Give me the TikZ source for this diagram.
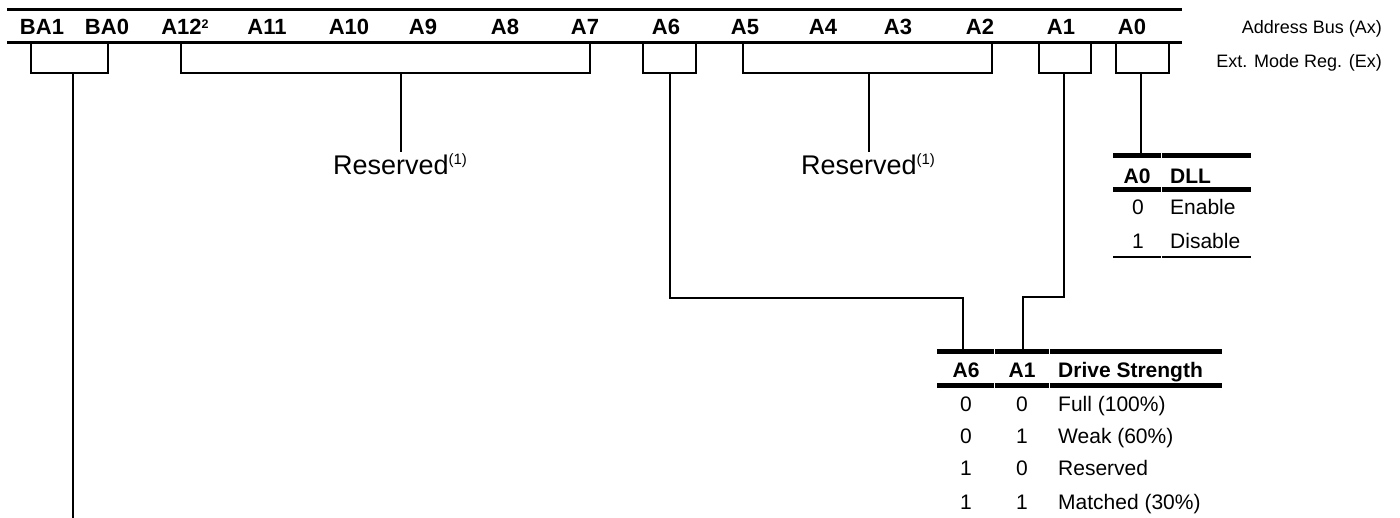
\documentclass[tikz,border=0pt]{standalone}
\usepackage{fontspec}
\setmainfont{Liberation Sans}
\begin{document}
\begin{tikzpicture}[x=1pt,y=-1pt,
  hdr/.style={font=\fontsize{22}{26}\selectfont\bfseries, anchor=base, inner sep=0pt},
  side/.style={font=\fontsize{18}{22}\selectfont, anchor=base east, inner sep=0pt},
  res/.style={font=\fontsize{27}{31}\selectfont, anchor=base, inner sep=0pt},
  tb/.style={font=\fontsize{21}{25}\selectfont, anchor=base, inner sep=0pt},
  tbl/.style={font=\fontsize{21}{25}\selectfont, anchor=base west, inner sep=0pt},
  tbh/.style={font=\fontsize{21}{25}\selectfont\bfseries, anchor=base, inner sep=0pt},
  tbhl/.style={font=\fontsize{21}{25}\selectfont\bfseries, anchor=base west, inner sep=0pt},
  busline/.style={line width=3pt},
  boxline/.style={line width=1.6pt},
  conn/.style={line width=1.3pt},
  thick rule/.style={line width=5pt},
  thin rule/.style={line width=1.5pt}]
\useasboundingbox (0,0) rectangle (1400,518);

% bus lines
\coordinate (busTL) at (7,10);
\coordinate (busTR) at (1182,10);
\coordinate (busBL) at (7,43);
\coordinate (busBR) at (1182,43);
\draw[busline] (busTL) -- (busTR);
\draw[busline] (busBL) -- (busBR);

% header labels
\foreach \t/\x/\n in {BA1/42/hba1, BA0/107/hba0, A11/267/ha11, A10/349/ha10, A9/423/ha9, A8/505/ha8, A7/585/ha7, A6/666/ha6, A5/745/ha5, A4/823/ha4, A3/898/ha3, A2/980/ha2, A1/1061/ha1, A0/1132/ha0}
  \node[hdr] (\n) at (\x,35) {\t};
\node[hdr] (ha12) at (185,35) {A12\raisebox{6.5pt}{\fontsize{12.5}{12.5}\selectfont\bfseries 2}};

\node[side] (abus) at (1382,33.5) {Address Bus (Ax)};
\node[side] (emr) at (1382,68) {Ext. Mode Reg. (Ex)};

% boxes (open at the top)
\draw[boxline] (31,43) -- (31,73) -- (108,73) -- (108,43);
\draw[boxline] (181,43) -- (181,73) -- (590,73) -- (590,43);
\draw[boxline] (643,43) -- (643,73) -- (696,73) -- (696,43);
\draw[boxline] (743,43) -- (743,73) -- (992,73) -- (992,43);
\draw[boxline] (1039,43) -- (1039,73) -- (1091,73) -- (1091,43);
\draw[boxline] (1116,43) -- (1116,73) -- (1169,73) -- (1169,43);

\coordinate (bBA) at (73,73.8);
\coordinate (bR1) at (401,73.8);
\coordinate (bA6) at (670,73.8);
\coordinate (bR2) at (869,73.8);
\coordinate (bA1) at (1064,73.8);
\coordinate (bA0) at (1141,73.8);

% BA connector
\coordinate (baEnd) at (73,518);
\draw[conn] (bBA) -- (baEnd);

% Reserved
\node[res] (res1) at (400,174.5) {Reserved\raisebox{9.5pt}{\fontsize{15}{15}\selectfont (1)}};
\node[res] (res2) at (868,174.5) {Reserved\raisebox{9.5pt}{\fontsize{15}{15}\selectfont (1)}};
\coordinate (r1e) at (401,152);
\coordinate (r2e) at (869,152);
\draw[conn] (bR1) -- (r1e);
\draw[conn] (bR2) -- (r2e);

% DLL table
\coordinate (dllTop) at (1141,153.5);
\draw[conn] (bA0) -- (dllTop);
\draw[thick rule] (1113,156) -- (1160.5,156);
\draw[thick rule] (1161.5,156) -- (1251,156);
\draw[thick rule] (1113,190) -- (1160.5,190);
\draw[thick rule] (1161.5,190) -- (1251,190);
\draw[thin rule] (1113,257) -- (1160.5,257);
\draw[thin rule] (1161.5,257) -- (1251,257);
\node[tbh] (dA0) at (1137,183.5) {A0};
\node[tbhl] (dDLL) at (1170,183.5) {DLL};
\node[tb] (d0) at (1138,214.5) {0};
\node[tbl] (dEn) at (1170,214.5) {Enable};
\node[tb] (d1) at (1138,248.5) {1};
\node[tbl] (dDis) at (1170,248.5) {Disable};

% Drive strength connectors
\coordinate (a6k) at (670,298);
\coordinate (a6k2) at (963,298);
\coordinate (a6e) at (963,349.5);
\draw[conn] (bA6) -- (a6k) -- (a6k2) -- (a6e);
\coordinate (a1k) at (1064,297);
\coordinate (a1k2) at (1023,297);
\coordinate (a1e) at (1023,349.5);
\draw[conn] (bA1) -- (a1k) -- (a1k2) -- (a1e);

% Drive strength table
\draw[thick rule] (937,352) -- (993.5,352);
\draw[thick rule] (994.5,352) -- (1048.5,352);
\draw[thick rule] (1049.5,352) -- (1222,352);
\draw[thick rule] (937,386) -- (993.5,386);
\draw[thick rule] (994.5,386) -- (1048.5,386);
\draw[thick rule] (1049.5,386) -- (1222,386);
\node[tbh] (sA6) at (966,377.5) {A6};
\node[tbh] (sA1) at (1022,377.5) {A1};
\node[tbhl] (sDS) at (1058,377.5) {Drive Strength};
\foreach \a/\b/\t/\y/\n in {0/0/Full (100\%)/411.5/r1, 0/1/Weak (60\%)/443.5/r2, 1/0/Reserved/475.5/r3, 1/1/Matched (30\%)/509.5/r4}{
  \node[tb] (\n a) at (966,\y) {\a};
  \node[tb] (\n b) at (1022,\y) {\b};
  \node[tbl] (\n c) at (1058,\y) {\t};
}
\end{tikzpicture}
\end{document}
